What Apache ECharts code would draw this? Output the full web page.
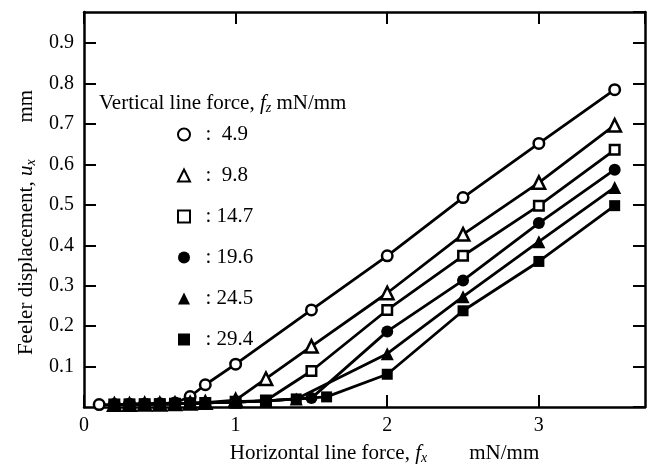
<!DOCTYPE html>
<html>
<head>
<meta charset="utf-8">
<script src="https://cdn.jsdelivr.net/npm/echarts@6.0.0/dist/echarts.min.js"></script>
<style>
html,body{margin:0;padding:0;background:#fff;}
#c{width:653px;height:470px;}
</style>
</head>
<body>
<div id="c"></div>
<script>
// ---- data ----
const seriesNames = ['4.9', '9.8', '14.7', '19.6', '24.5', '29.4'];
const legendLabels = [':  4.9', ':  9.8', ': 14.7', ': 19.6', ': 24.5', ': 29.4'];

const x_49 = [0.1, 0.2, 0.3, 0.4, 0.5, 0.6, 0.7, 0.8, 1.0, 1.5, 2.0, 2.5, 3.0, 3.5];
const y_49 = [0.006, 0.006, 0.007, 0.007, 0.008, 0.010, 0.026, 0.055, 0.106, 0.240, 0.374, 0.518, 0.652, 0.785];

const x_98 = [0.2, 0.3, 0.4, 0.5, 0.6, 0.7, 0.8, 1.0, 1.2, 1.5, 2.0, 2.5, 3.0, 3.5];
const y_98 = [0.006, 0.006, 0.007, 0.007, 0.008, 0.009, 0.011, 0.017, 0.070, 0.150, 0.282, 0.427, 0.555, 0.697];

const x_147 = [0.2, 0.3, 0.4, 0.5, 0.6, 0.7, 0.8, 1.0, 1.2, 1.5, 2.0, 2.5, 3.0, 3.5];
const y_147 = [0.006, 0.006, 0.007, 0.007, 0.008, 0.009, 0.010, 0.013, 0.016, 0.089, 0.240, 0.374, 0.498, 0.636];

const x_196 = [0.2, 0.3, 0.4, 0.5, 0.6, 0.7, 0.8, 1.0, 1.2, 1.5, 2.0, 2.5, 3.0, 3.5];
const y_196 = [0.006, 0.007, 0.007, 0.008, 0.008, 0.009, 0.010, 0.012, 0.015, 0.022, 0.187, 0.313, 0.455, 0.587];

const x_245 = [0.2, 0.3, 0.4, 0.5, 0.6, 0.7, 0.8, 1.0, 1.2, 1.4, 2.0, 2.5, 3.0, 3.5];
const y_245 = [0.006, 0.007, 0.007, 0.008, 0.008, 0.009, 0.010, 0.012, 0.015, 0.020, 0.132, 0.273, 0.409, 0.543];

const x_294 = [0.2, 0.3, 0.4, 0.5, 0.6, 0.7, 0.8, 1.0, 1.2, 1.4, 1.6, 2.0, 2.5, 3.0, 3.5];
const y_294 = [0.006, 0.007, 0.007, 0.008, 0.008, 0.009, 0.010, 0.012, 0.015, 0.020, 0.025, 0.081, 0.238, 0.360, 0.498];

const xTickLabels = ['0', '1', '2', '3'];
const yTickLabels = ['0.1', '0.2', '0.3', '0.4', '0.5', '0.6', '0.7', '0.8', '0.9'];

// ---- styling ----
const FONT = 'Liberation Serif';
const xs = [x_49, x_98, x_147, x_196, x_245, x_294];
const ys = [y_49, y_98, y_147, y_196, y_245, y_294];
const symbols = ['circle', 'triangle', 'rect', 'circle', 'triangle', 'rect'];
const sizes = [10.5, 12.5, 9.5, 12, 13, 11];
const open = [true, true, true, false, false, false];

function zip(a, b) { return a.map((v, i) => [v, b[i]]); }

const series = seriesNames.map((n, i) => ({
  name: n,
  type: 'line',
  data: zip(xs[i], ys[i]),
  symbol: symbols[i],
  symbolSize: sizes[i],
  showAllSymbol: true,
  lineStyle: { color: '#000', width: 2.8 },
  itemStyle: open[i]
    ? { color: '#fff', borderColor: '#000', borderWidth: 2.5, opacity: 1 }
    : { color: '#000', borderColor: '#000', borderWidth: 0, opacity: 1 },
  emphasis: { disabled: true },
  z: 2 + i
}));

const richSub = {
  i: { fontFamily: FONT, fontSize: 21, fontStyle: 'italic', color: '#000' },
  s: { fontFamily: FONT, fontSize: 14, fontStyle: 'italic', color: '#000', padding: [9, 0, 0, 0] },
  n: { fontFamily: FONT, fontSize: 21, color: '#000' }
};

const axisCommon = {
  axisLine: { show: true, onZero: false, lineStyle: { color: '#000', width: 2.5 } },
  axisTick: { show: true, inside: true, length: 12, lineStyle: { color: '#000', width: 2 } },
  splitLine: { show: false }
};

const option = {
  animation: false,
  backgroundColor: '#fff',
  grid: { left: 84, right: 8, top: 12, bottom: 57, containLabel: false },
  title: {
    text: '{n|Vertical line force, }{i|f}{s|z}{n| mN/mm}',
    left: 99, top: 92,
    padding: 0,
    textStyle: { fontFamily: FONT, fontSize: 21, fontWeight: 'normal', color: '#000', rich: richSub }
  },
  legend: {
    orient: 'vertical',
    left: 177, top: 124,
    itemWidth: 12, itemHeight: 12,
    itemGap: 20,
    padding: 0,
    selectedMode: false,
    data: seriesNames.map((n, i) => ({ name: n, icon: symbols[i] })),
    formatter: name => '  ' + legendLabels[seriesNames.indexOf(name)],
    textStyle: { fontFamily: FONT, fontSize: 21, color: '#000', lineHeight: 20 }
  },
  xAxis: [
    Object.assign({}, axisCommon, {
      type: 'value', min: 0, max: 3.7, interval: 1, position: 'bottom',
      axisLabel: {
        show: true, margin: 9, showMaxLabel: false,
        fontFamily: FONT, fontSize: 20, color: '#000',
        formatter: v => { const k = Math.round(v); return (Math.abs(v - k) < 1e-6 && xTickLabels[k] !== undefined) ? xTickLabels[k] : ''; }
      },
      name: '{n|Horizontal line force, }{i|f}{s|x}{n|        mN/mm}',
      nameLocation: 'middle', nameGap: 35,
      nameTextStyle: { fontFamily: FONT, fontSize: 21, color: '#000', rich: richSub, padding: [0, 0, 0, 40] }
    }),
    Object.assign({}, axisCommon, {
      type: 'value', min: 0, max: 3.7, interval: 1, position: 'top',
      axisLabel: { show: false }
    })
  ],
  yAxis: [
    Object.assign({}, axisCommon, {
      type: 'value', min: 0, max: 0.977, interval: 0.1, position: 'left',
      axisLabel: {
        show: true, margin: 10, showMinLabel: false, showMaxLabel: false,
        fontFamily: FONT, fontSize: 20, color: '#000',
        formatter: v => { const k = Math.round(v * 10); return (k >= 1 && k <= 9 && Math.abs(v * 10 - k) < 1e-6) ? yTickLabels[k - 1] : ''; }
      },
      name: '{n|Feeler displacement, }{i|u}{s|x}{n|       mm}',
      nameLocation: 'middle', nameGap: 44, nameRotate: 90,
      nameTextStyle: { fontFamily: FONT, fontSize: 21, color: '#000', rich: richSub, padding: [0, 26, 0, 0] }
    }),
    Object.assign({}, axisCommon, {
      type: 'value', min: 0, max: 0.977, interval: 0.1, position: 'right',
      axisLabel: { show: false }
    })
  ],
  series: series
};

const chart = echarts.init(document.getElementById('c'), null, { renderer: 'canvas' });
chart.setOption(option);
</script>
</body>
</html>
